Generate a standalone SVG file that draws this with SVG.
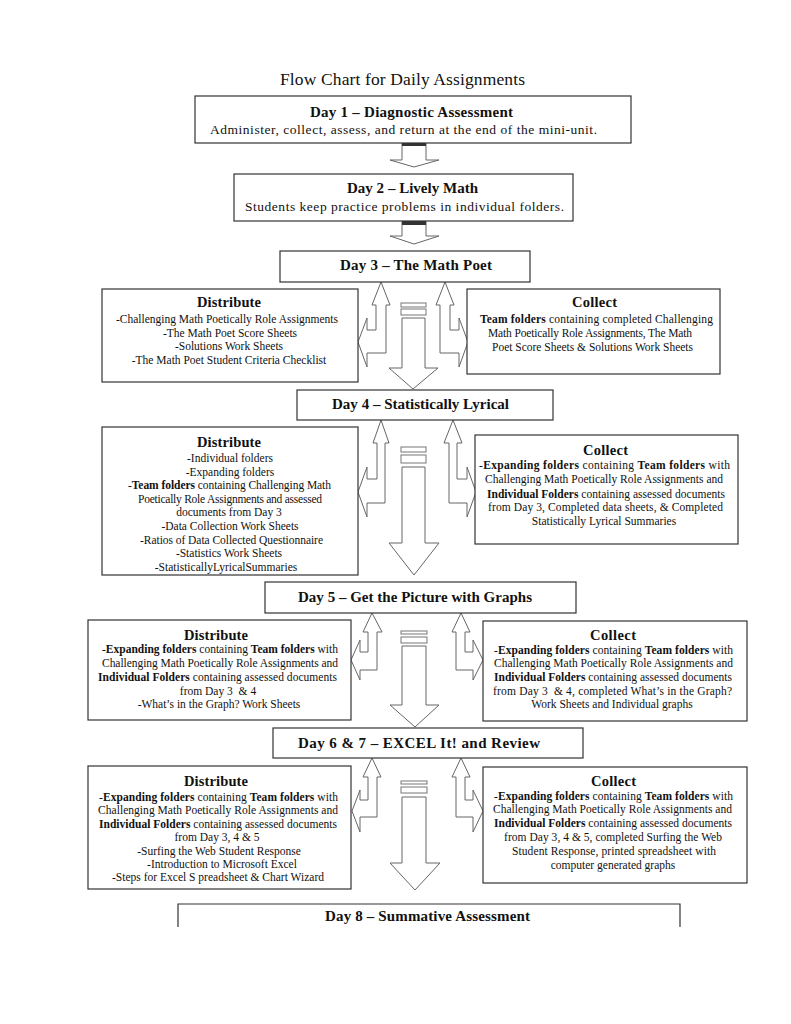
<svg xmlns="http://www.w3.org/2000/svg" width="791" height="1024" viewBox="0 0 791 1024">
<style>
text{font-family:"Liberation Serif","Times New Roman",serif;fill:#111}
.t{font-size:17.5px}
.h{font-size:15px;font-weight:bold}
.b{font-size:13.5px}
.st{font-size:14.5px;font-weight:bold}
.l{font-size:11.5px}
.c{text-anchor:middle}
.bo{font-weight:bold}
.box{fill:#fff;stroke:#333;stroke-width:1.2}
.arr{fill:#fff;stroke:#666;stroke-width:1}
.bar{fill:#fff;stroke:#777;stroke-width:1}
</style>
<rect width="791" height="1024" fill="#fff"/>
<text class="t" x="280" y="85" textLength="245">Flow Chart for Daily Assignments</text>

<g id="connectors">
  <path class="arr" d="M402,142 L426,142 L426,160 L439,160 L414,167 L390,160 L402,160 Z"/>
  <rect x="402" y="142" width="24" height="4" fill="#333"/>
  <path class="arr" d="M402,221 L426,221 L426,236 L439,236 L414,244 L390,236 L402,236 Z"/>
  <rect x="402" y="221" width="24" height="4" fill="#333"/>

  <path class="arr" d="M381,282 L390,305 L386,305 L386,353 L367,353 L367,367 L358,342 L367,318 L367,330 L376,330 L376,305 L372,305 Z"/>
  <path class="arr" d="M445,282 L454,305 L450,305 L450,330 L459,330 L459,318 L468,342 L459,367 L459,353 L440,353 L440,305 L436,305 Z"/>
  <rect class="bar" x="401" y="303" width="25" height="4"/>
  <rect class="bar" x="401" y="309" width="25" height="6"/>
  <path class="arr" d="M402,318 L425,318 L425,368 L438,368 L413,389 L389,368 L402,368 Z"/>

  <path class="arr" d="M381,420 L389,443 L385,443 L385,503 L367,503 L367,517 L358,492 L367,467 L367,479 L377,479 L377,443 L373,443 Z"/>
  <path class="arr" d="M453,420 L462,443 L457,443 L457,479 L467,479 L467,467 L476,492 L467,517 L467,503 L449,503 L449,443 L444,443 Z"/>
  <rect class="bar" x="401" y="447" width="25" height="5"/>
  <rect class="bar" x="401" y="455" width="25" height="8"/>
  <path class="arr" d="M402,467 L425,467 L425,543 L439,543 L414,575 L389,543 L402,543 Z"/>

  <path class="arr" d="M372,613 L382,632 L377,632 L377,670 L360,670 L360,680 L351,660 L360,640 L360,652 L368,652 L368,632 L363,632 Z"/>
  <path class="arr" d="M461,613 L470,632 L465,632 L465,652 L473,652 L473,640 L483,660 L473,680 L473,670 L456,670 L456,632 L452,632 Z"/>
  <rect class="bar" x="401" y="631" width="26" height="3"/>
  <rect class="bar" x="401" y="637" width="26" height="6"/>
  <path class="arr" d="M402,646 L426,646 L426,705 L439,705 L415,727 L390,705 L402,705 Z"/>

  <path class="arr" d="M372,758 L381,777 L377,777 L377,817 L360,817 L360,832 L352,811 L360,790 L360,800 L368,800 L368,777 L363,777 Z"/>
  <path class="arr" d="M461,758 L470,777 L465,777 L465,800 L473,800 L473,790 L483,811 L473,832 L473,817 L456,817 L456,777 L452,777 Z"/>
  <rect class="bar" x="401" y="781" width="26" height="3"/>
  <rect class="bar" x="401" y="787" width="26" height="6"/>
  <path class="arr" d="M402,797 L426,797 L426,863 L440,863 L415,890 L390,863 L402,863 Z"/>
</g>

<g id="day1">
  <rect class="box" x="195" y="96" width="436" height="47"/>
  <text class="h" x="310" y="117" textLength="203">Day 1 – Diagnostic Assessment</text>
  <text class="b" x="210" y="134" textLength="387">Administer, collect, assess, and return at the end of the mini-unit.</text>
</g>
<g id="day2">
  <rect class="box" x="234" y="174" width="339" height="47"/>
  <text class="h" x="347" y="193" textLength="131">Day 2 – Lively Math</text>
  <text class="b" x="245" y="211" textLength="319">Students keep practice problems in individual folders.</text>
</g>
<g id="day3">
  <rect class="box" x="280" y="251" width="250" height="31"/>
  <text class="h" x="340" y="270" textLength="152">Day 3 – The Math Poet</text>
</g>
<g id="distribute3">
  <rect class="box" x="102" y="289" width="256" height="93"/>
  <text class="st" x="197" y="307" textLength="64">Distribute</text>
  <text class="l" x="116" y="323" textLength="222">-Challenging Math Poetically Role Assignments</text>
  <text class="l c" x="230" y="337">-The Math Poet Score Sheets</text>
  <text class="l c" x="229" y="350">-Solutions Work Sheets</text>
  <text class="l c" x="229" y="364">-The Math Poet Student Criteria Checklist</text>
</g>
<g id="collect3">
  <rect class="box" x="467" y="289" width="253" height="85"/>
  <text class="st" x="572" y="307" textLength="45">Collect</text>
  <text class="l" x="480" y="323" textLength="233"><tspan class="bo">Team folders</tspan> containing completed Challenging</text>
  <text class="l" x="488" y="337" textLength="204">Math Poetically Role Assignments, The Math</text>
  <text class="l" x="492" y="351" textLength="201">Poet Score Sheets &amp; Solutions Work Sheets</text>
</g>
<g id="day4">
  <rect class="box" x="297" y="390" width="256" height="30"/>
  <text class="h" x="332" y="409" textLength="177">Day 4 – Statistically Lyrical</text>
</g>
<g id="distribute4">
  <rect class="box" x="102" y="427" width="256" height="148"/>
  <text class="st" x="197" y="447" textLength="64">Distribute</text>
  <text class="l c" x="230" y="462">-Individual folders</text>
  <text class="l c" x="230" y="475.6">-Expanding folders</text>
  <text class="l" x="128" y="489.2" textLength="203">-<tspan class="bo">Team folders</tspan> containing Challenging Math</text>
  <text class="l" x="138" y="502.8" textLength="184">Poetically Role Assignments and assessed</text>
  <text class="l c" x="229" y="516.4">documents from Day 3</text>
  <text class="l c" x="230" y="530">-Data Collection Work Sheets</text>
  <text class="l" x="140" y="543.6" textLength="183">-Ratios of Data Collected Questionnaire</text>
  <text class="l c" x="229" y="557.2">-Statistics Work Sheets</text>
  <text class="l c" x="226" y="570.8">-StatisticallyLyricalSummaries</text>
</g>
<g id="collect4">
  <rect class="box" x="475" y="435" width="263" height="109"/>
  <text class="st" x="583" y="455" textLength="45">Collect</text>
  <text class="l" x="479" y="469" textLength="251">-<tspan class="bo">Expanding folders</tspan> containing <tspan class="bo">Team folders</tspan> with</text>
  <text class="l" x="485" y="483" textLength="238">Challenging Math Poetically Role Assignments and</text>
  <text class="l" x="487" y="497.5" textLength="238"><tspan class="bo">Individual Folders</tspan> containing assessed documents</text>
  <text class="l" x="488" y="511" textLength="235">from Day 3, Completed data sheets, &amp; Completed</text>
  <text class="l c" x="604" y="525">Statistically Lyrical Summaries</text>
</g>
<g id="day5">
  <rect class="box" x="265" y="582" width="311" height="31"/>
  <text class="h" x="298" y="602" textLength="234">Day 5 – Get the Picture with Graphs</text>
</g>
<g id="distribute5">
  <rect class="box" x="88" y="620" width="263" height="100"/>
  <text class="st" x="184" y="640" textLength="64">Distribute</text>
  <text class="l" x="102" y="653" textLength="236">-<tspan class="bo">Expanding folders</tspan> containing <tspan class="bo">Team folders</tspan> with</text>
  <text class="l" x="102" y="667" textLength="236">Challenging Math Poetically Role Assignments and</text>
  <text class="l" x="98" y="681" textLength="239"><tspan class="bo">Individual Folders</tspan> containing assessed documents</text>
  <text class="l c" x="218" y="695">from Day 3 &#160;&amp; 4</text>
  <text class="l c" x="219" y="708">-What’s in the Graph? Work Sheets</text>
</g>
<g id="collect5">
  <rect class="box" x="483" y="621" width="264" height="100"/>
  <text class="st" x="590" y="640" textLength="46">Collect</text>
  <text class="l" x="494" y="654" textLength="239">-<tspan class="bo">Expanding folders</tspan> containing <tspan class="bo">Team folders</tspan> with</text>
  <text class="l" x="494" y="667" textLength="239">Challenging Math Poetically Role Assignments and</text>
  <text class="l" x="494" y="681" textLength="238"><tspan class="bo">Individual Folders</tspan> containing assessed documents</text>
  <text class="l" x="493" y="695" textLength="239">from Day 3 &#160;&amp; 4, completed What’s in the Graph?</text>
  <text class="l c" x="612" y="708">Work Sheets and Individual graphs</text>
</g>
<g id="day6-7">
  <rect class="box" x="273" y="728" width="310" height="30"/>
  <text class="h" x="298" y="748" textLength="242">Day 6 &amp; 7 – EXCEL It! and Review</text>
</g>
<g id="distribute6-7">
  <rect class="box" x="88" y="766" width="263" height="123"/>
  <text class="st" x="184" y="786" textLength="64">Distribute</text>
  <text class="l" x="99" y="801" textLength="239">-<tspan class="bo">Expanding folders</tspan> containing <tspan class="bo">Team folders</tspan> with</text>
  <text class="l" x="98" y="814" textLength="240">Challenging Math Poetically Role Assignments and</text>
  <text class="l" x="99" y="828" textLength="238"><tspan class="bo">Individual Folders</tspan> containing assessed documents</text>
  <text class="l c" x="217" y="841">from Day 3, 4 &amp; 5</text>
  <text class="l c" x="219" y="855">-Surfing the Web Student Response</text>
  <text class="l c" x="222" y="868">-Introduction to Microsoft Excel</text>
  <text class="l" x="112" y="881" textLength="212">-Steps for Excel S preadsheet &amp; Chart Wizard</text>
</g>
<g id="collect6-7">
  <rect class="box" x="483" y="767" width="264" height="116"/>
  <text class="st" x="591" y="786" textLength="45">Collect</text>
  <text class="l" x="494" y="800" textLength="239">-<tspan class="bo">Expanding folders</tspan> containing <tspan class="bo">Team folders</tspan> with</text>
  <text class="l" x="493" y="813" textLength="239">Challenging Math Poetically Role Assignments and</text>
  <text class="l" x="494" y="827" textLength="238"><tspan class="bo">Individual Folders</tspan> containing assessed documents</text>
  <text class="l" x="504" y="841" textLength="218">from Day 3, 4 &amp; 5, completed Surfing the Web</text>
  <text class="l" x="512" y="855" textLength="204">Student Response, printed spreadsheet with</text>
  <text class="l c" x="613" y="869">computer generated graphs</text>
</g>
<g id="day8">
  <path d="M178,927 L178,904 L680,904 L680,927" fill="none" stroke="#333" stroke-width="1.2"/>
  <text class="h" x="325" y="921" textLength="205">Day 8 – Summative Assessment</text>
</g>
</svg>
